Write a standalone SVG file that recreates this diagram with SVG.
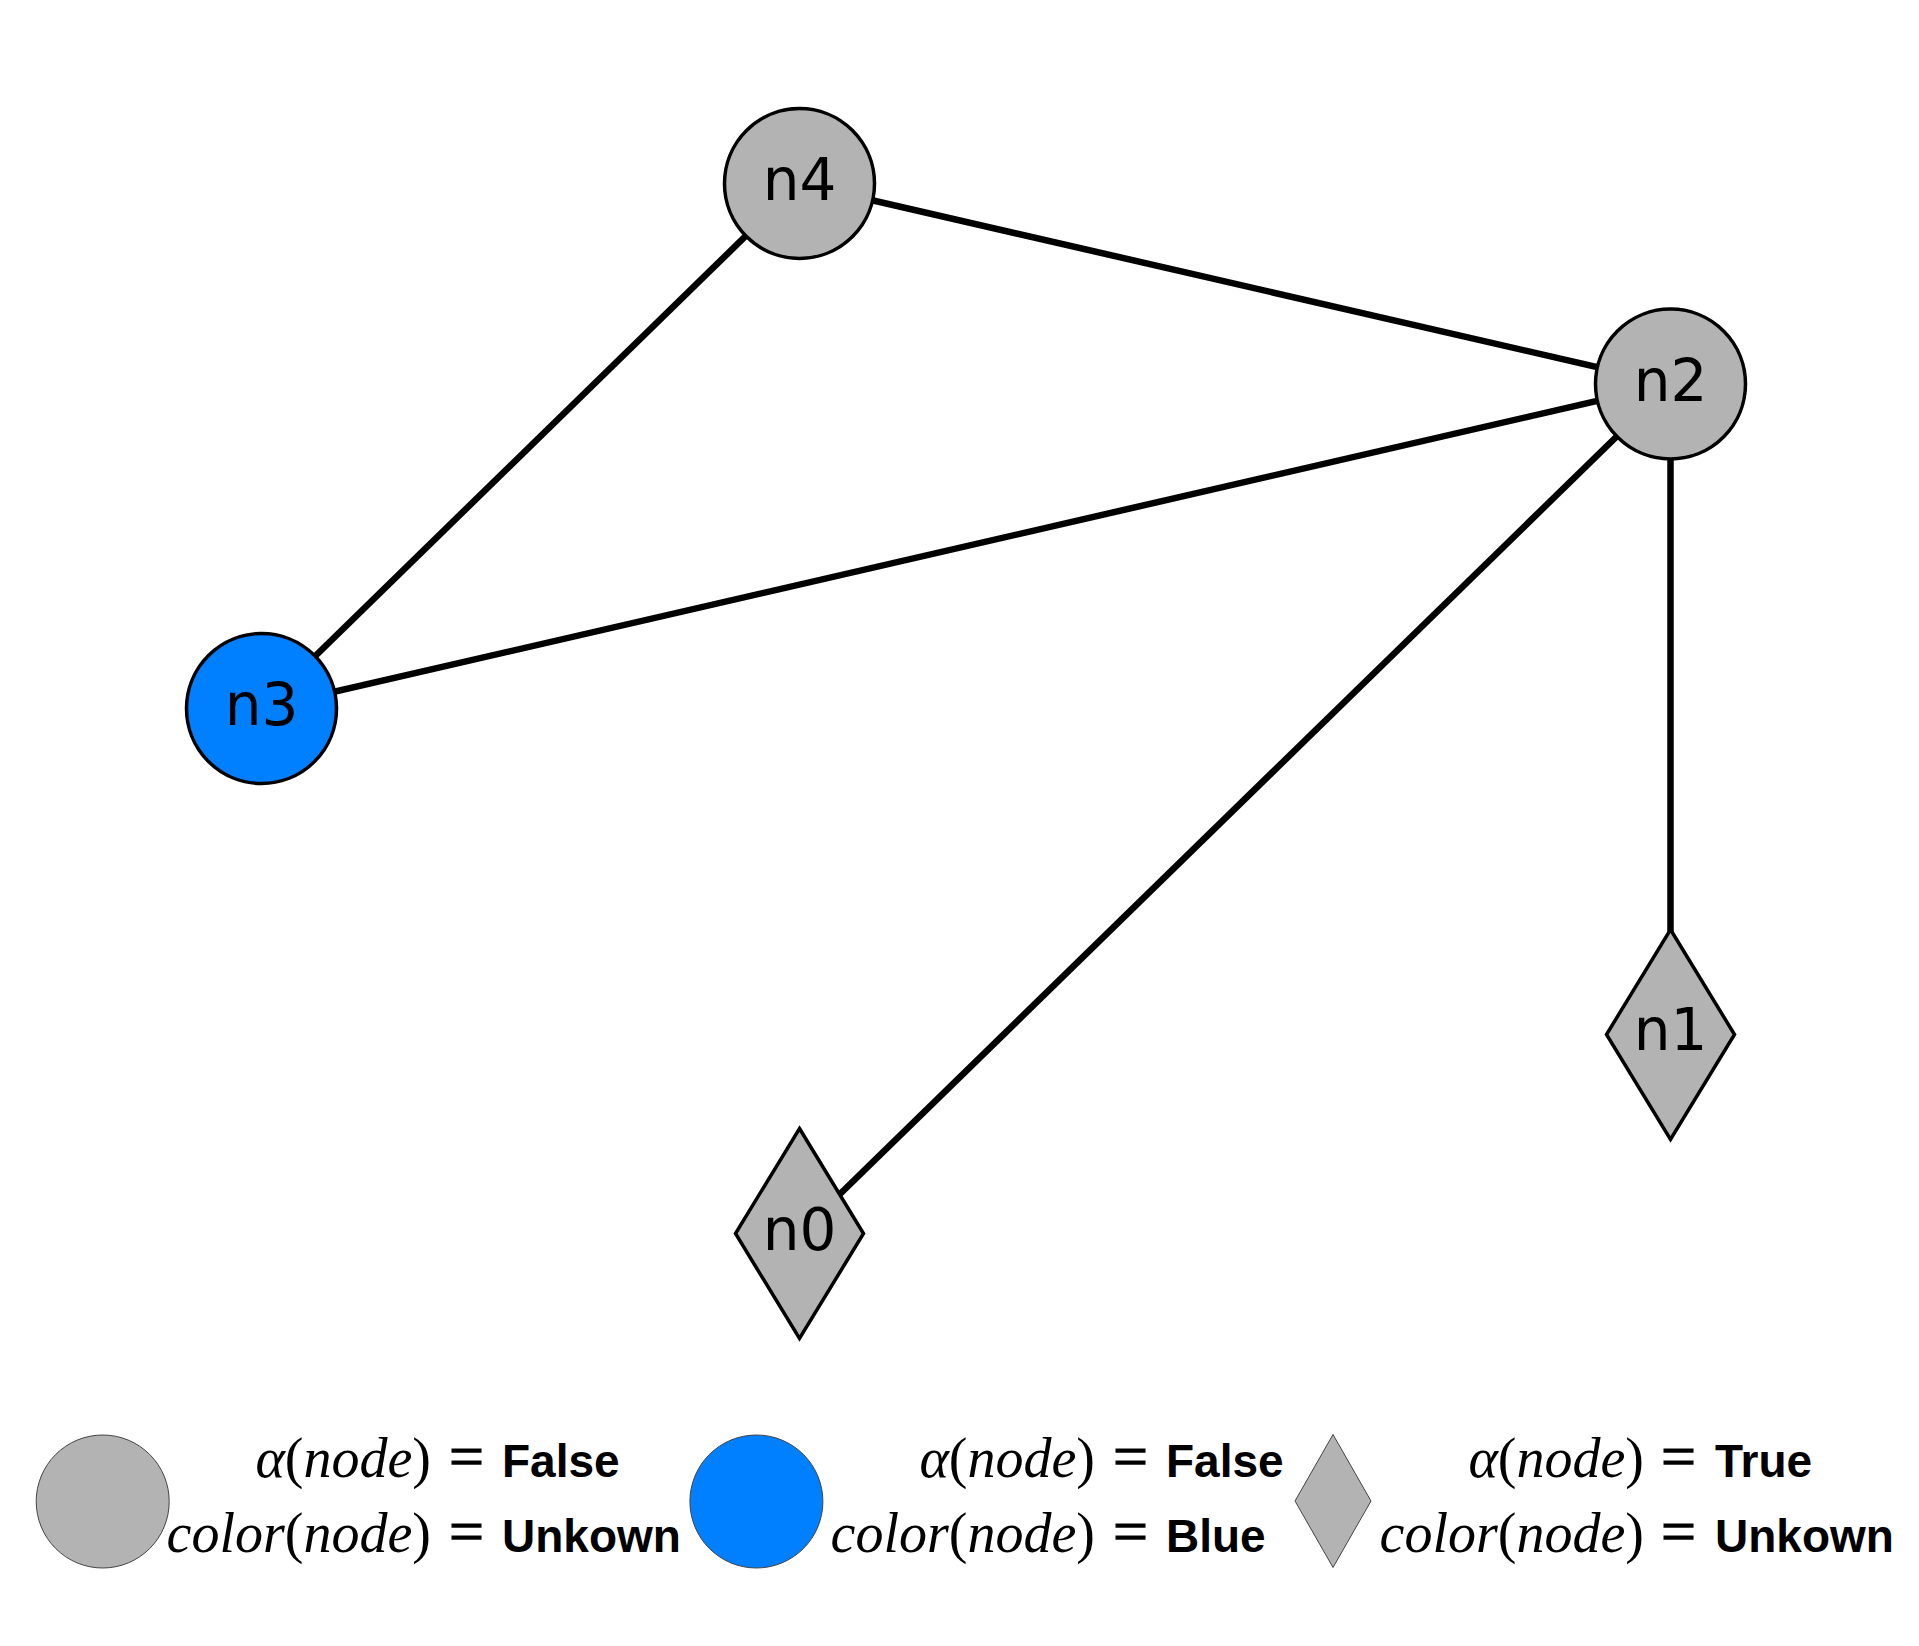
<svg xmlns="http://www.w3.org/2000/svg" width="1919" height="1646" viewBox="0 0 1919 1646">
<style>
.edge{stroke:#000;stroke-width:6.5;fill:none}
.node{stroke:#000;stroke-width:3.5;fill:#b3b3b3}
.blue{fill:#007fff}
.lbl{font-family:"DejaVu Sans",sans-serif;font-size:58px;fill:#000;text-anchor:middle}
.leg{stroke:#444;stroke-width:1;fill:#b3b3b3}
.m{font-family:"Liberation Serif",serif;font-style:italic;font-size:56px;fill:#000;text-anchor:end}
.eq{font-family:"Liberation Serif",serif;font-size:62px;fill:#000;stroke:#000;stroke-width:1.2}
.b{font-family:"Liberation Sans",Arial,sans-serif;font-weight:bold;font-size:46px;fill:#000}
.up{font-style:normal}
</style>
<rect width="1919" height="1646" fill="#fff"/>
<g id="edges">
<line class="edge" x1="799.5" y1="183.5" x2="1670.5" y2="384"/>
<line class="edge" x1="799.5" y1="183.5" x2="261.5" y2="708.5"/>
<line class="edge" x1="1670.5" y1="384" x2="261.5" y2="708.5"/>
<line class="edge" x1="1670.5" y1="384" x2="799.5" y2="1233.5"/>
<line class="edge" x1="1670.5" y1="384" x2="1670.5" y2="1034.5"/>
</g>
<g id="n4"><circle class="node" cx="799.5" cy="183.5" r="75"/><text class="lbl" x="799.5" y="200">n4</text></g>
<g id="n2"><circle class="node" cx="1670.5" cy="384" r="75"/><text class="lbl" x="1670.5" y="400.5">n2</text></g>
<g id="n3"><circle class="node blue" cx="261.5" cy="708.5" r="75"/><text class="lbl" x="261.5" y="725">n3</text></g>
<g id="n1"><polygon class="node" points="1670.5,929.5 1734.5,1034.5 1670.5,1139.5 1606.5,1034.5"/><text class="lbl" x="1670.5" y="1050">n1</text></g>
<g id="n0"><polygon class="node" points="799.5,1128.5 863.5,1233.5 799.5,1338.5 735.5,1233.5"/><text class="lbl" x="799.5" y="1250">n0</text></g>
<g id="legend">
<g id="legend-gray">
<circle class="leg" cx="102.7" cy="1501.5" r="66.5"/>
<text class="m" x="431" y="1477">α<tspan class="up">(</tspan>node<tspan class="up">)</tspan></text>
<text class="eq" x="449" y="1477">=</text>
<text class="b" x="502" y="1477">False</text>
<text class="m" x="431" y="1552">color<tspan class="up">(</tspan>node<tspan class="up">)</tspan></text>
<text class="eq" x="449" y="1552">=</text>
<text class="b" x="502" y="1552">Unkown</text>
</g>
<g id="legend-blue">
<circle class="leg" cx="756.4" cy="1501.5" r="66.5" style="fill:#007fff"/>
<text class="m" x="1095" y="1477">α<tspan class="up">(</tspan>node<tspan class="up">)</tspan></text>
<text class="eq" x="1113" y="1477">=</text>
<text class="b" x="1166" y="1477">False</text>
<text class="m" x="1095" y="1552">color<tspan class="up">(</tspan>node<tspan class="up">)</tspan></text>
<text class="eq" x="1113" y="1552">=</text>
<text class="b" x="1166" y="1552">Blue</text>
</g>
<g id="legend-diamond">
<polygon class="leg" points="1333,1434.5 1371,1501 1333,1567.5 1295,1501"/>
<text class="m" x="1644" y="1477">α<tspan class="up">(</tspan>node<tspan class="up">)</tspan></text>
<text class="eq" x="1661" y="1477">=</text>
<text class="b" x="1715" y="1477">True</text>
<text class="m" x="1644" y="1552">color<tspan class="up">(</tspan>node<tspan class="up">)</tspan></text>
<text class="eq" x="1661" y="1552">=</text>
<text class="b" x="1715" y="1552">Unkown</text>
</g>
</g>
</svg>
